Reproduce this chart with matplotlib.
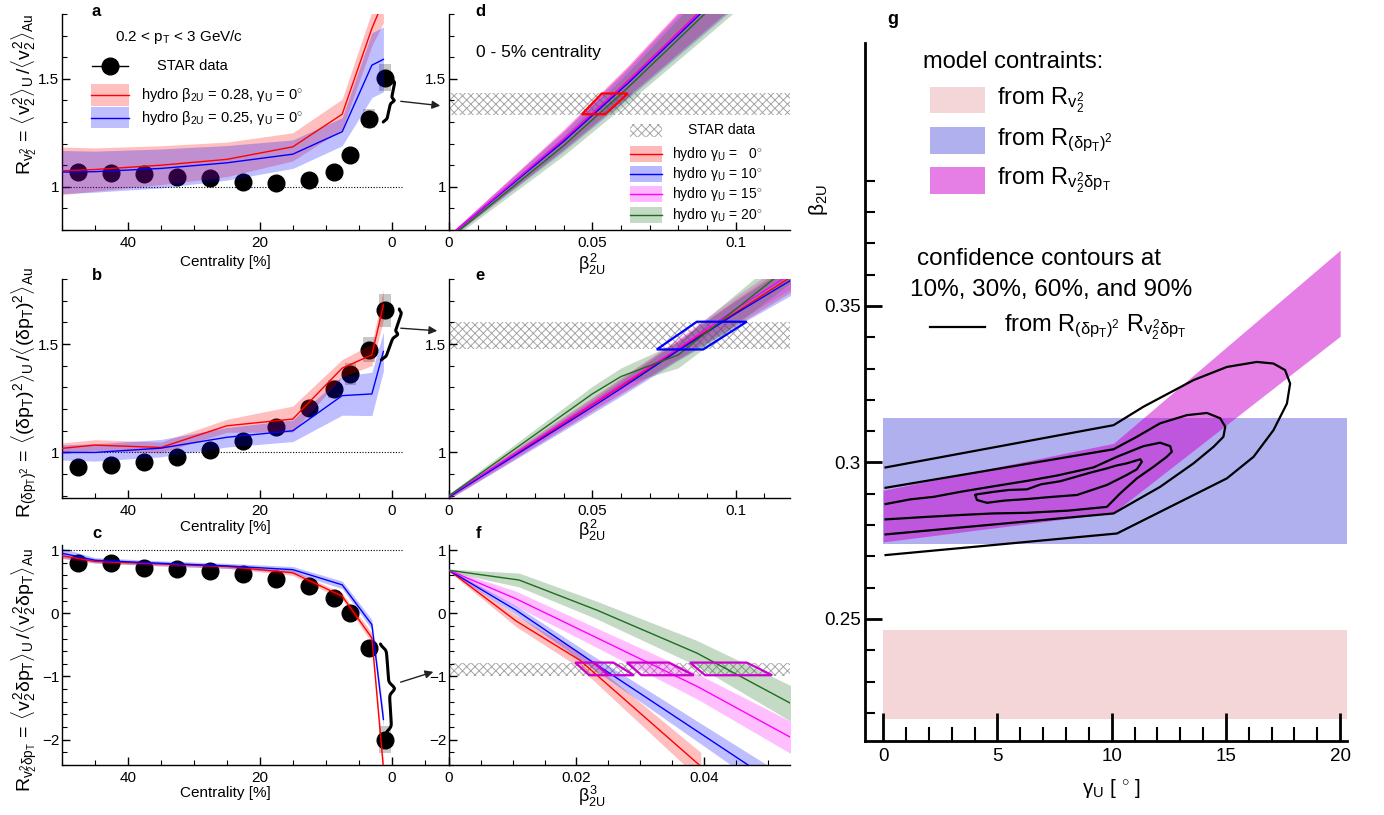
import numpy as np
import matplotlib
matplotlib.use('Agg')
import matplotlib.pyplot as plt
from matplotlib.patches import Rectangle, Polygon
from matplotlib.ticker import MultipleLocator, FixedLocator, FuncFormatter

plt.rcParams['font.family'] = ['Liberation Sans', 'DejaVu Sans']
plt.rcParams['mathtext.fontset'] = 'custom'
plt.rcParams['mathtext.rm'] = 'Liberation Sans'
plt.rcParams['mathtext.it'] = 'Liberation Sans'
plt.rcParams['mathtext.bf'] = 'Liberation Sans:bold'
plt.rcParams['hatch.linewidth'] = 0.7

# ------------------------- data -------------------------
cent_star = [47.5, 42.5, 37.5, 32.5, 27.5, 22.5, 17.5, 12.5, 8.75, 6.25, 3.5, 1.0]
rv2_star = [1.069, 1.062, 1.057, 1.046, 1.039, 1.023, 1.019, 1.031, 1.069, 1.147, 1.316, 1.506]
rv2_sys = [0.01, 0.01, 0.01, 0.01, 0.01, 0.01, 0.01, 0.01, 0.015, 0.02, 0.042, 0.064]
rpt_star = [0.931, 0.941, 0.957, 0.977, 1.011, 1.054, 1.119, 1.204, 1.292, 1.363, 1.474, 1.656]
rpt_sys = [0.01, 0.01, 0.01, 0.01, 0.015, 0.02, 0.025, 0.03, 0.042, 0.05, 0.058, 0.077]
rcov_star = [0.80, 0.79, 0.71, 0.70, 0.67, 0.62, 0.55, 0.43, 0.24, 0.01, -0.55, -2.0]
rcov_sys = [0.03, 0.03, 0.03, 0.03, 0.03, 0.03, 0.03, 0.03, 0.04, 0.05, 0.08, 0.21]

cent_hydro = [50, 45, 35, 25, 15, 7.5, 3.0, 1.25]
rv2_b28 = [1.074, 1.08, 1.10, 1.127, 1.185, 1.336, 1.733, 1.86]
rv2_b28_err = [0.11, 0.10, 0.09, 0.08, 0.065, 0.07, 0.08, 0.10]
rv2_b25 = [1.068, 1.07, 1.085, 1.111, 1.151, 1.255, 1.563, 1.59]
rv2_b25_err = [0.10, 0.095, 0.09, 0.08, 0.066, 0.065, 0.15, 0.15]
rpt_b28 = [1.019, 1.034, 1.023, 1.123, 1.154, 1.389, 1.45, 1.68]
rpt_b28_err = [0.025, 0.025, 0.025, 0.03, 0.06, 0.04, 0.05, 0.07]
rpt_b25 = [1.0, 1.0, 1.02, 1.07, 1.10, 1.262, 1.27, 1.466]
rpt_b25_err = [0.035, 0.04, 0.04, 0.045, 0.05, 0.09, 0.10, 0.09]
rcov_b28 = [0.91, 0.82, 0.78, 0.74, 0.64, 0.27, -0.39, -2.45]
rcov_b28_err = [0.04, 0.03, 0.03, 0.03, 0.04, 0.05, 0.08, 0.12]
rcov_b25 = [0.95, 0.84, 0.79, 0.75, 0.69, 0.45, -0.18, -1.68]
rcov_b25_err = [0.08, 0.04, 0.04, 0.04, 0.05, 0.06, 0.08, 0.12]

# panel d: R_v2 vs beta^2 (0-5%)
d_beta2 = [0, 0.04, 0.0625, 0.09, 0.12]
d_g0 = [0.77, 1.218, 1.49, 1.842, 2.22]
d_g10 = [0.77, 1.21, 1.48, 1.83, 2.21]
d_g15 = [0.77, 1.22, 1.49, 1.84, 2.22]
d_g20 = [0.76, 1.19, 1.46, 1.81, 2.19]
d_err = [0.01, 0.045, 0.07, 0.11, 0.15]
d_star = (1.332, 1.435)
d_para_x = [0.0464, 0.0545, 0.0624, 0.0533]
d_para_y = [1.336, 1.336, 1.432, 1.432]

# panel e: R_(dpT)^2 vs beta^2
e_beta2 = [0, 0.05, 0.06, 0.08, 0.1, 0.12]
e_g0 = [0.795, 1.22, 1.305, 1.475, 1.645, 1.815]
e_g10 = [0.795, 1.21, 1.295, 1.47, 1.64, 1.80]
e_g15 = [0.80, 1.225, 1.31, 1.48, 1.66, 1.83]
e_g20 = [0.80, 1.27, 1.35, 1.45, 1.66, 1.87]
e_err = [0.01, 0.03, 0.035, 0.045, 0.06, 0.07]
e_err_g20 = [0.01, 0.035, 0.04, 0.06, 0.07, 0.08]
e_star = (1.475, 1.603)
e_para_x = [0.0725, 0.0887, 0.1039, 0.0865]
e_para_y = [1.475, 1.475, 1.603, 1.603]

# panel f: R_v2dpT vs beta^3
f_beta3_g0 = [0, 0.0105, 0.0205, 0.0395]
f_g0 = [0.68, -0.12, -0.74, -2.42]
f_g0_err = [0.02, 0.09, 0.12, 0.22]
f_beta3 = [0, 0.0105, 0.022, 0.039, 0.055]
f_g10 = [0.68, 0.05, -0.735, -1.87, -2.94]
f_g10_err = [0.02, 0.07, 0.10, 0.16, 0.22]
f_g15 = [0.68, 0.23, -0.33, -1.16, -2.04]
f_g15_err = [0.02, 0.12, 0.15, 0.20, 0.26]
f_beta3_g20 = [0, 0.011, 0.0232, 0.0389, 0.055]
f_g20 = [0.68, 0.526, 0.05, -0.63, -1.50]
f_g20_err = [0.02, 0.11, 0.14, 0.20, 0.29]
f_star = (-0.99, -0.78)
f_para_y = [-0.78, -0.78, -0.98, -0.98]
f_para_x = [[0.0198, 0.0228, 0.0250, 0.0220],
            [0.0226, 0.0258, 0.0290, 0.0252],
            [0.0279, 0.0345, 0.0384, 0.0302],
            [0.0378, 0.0467, 0.0507, 0.0402]]

# panel g: constraints in (gamma, beta) plane
g_band_x = [0, 20.3]
g_rv2 = (0.218, 0.2465)
g_rpt = (0.2739, 0.3142)
g_cov_x = [0, 10.08, 20.0]
g_cov_lo = [0.2746, 0.2839, 0.3403]
g_cov_hi = [0.2911, 0.3061, 0.3678]
c90_g = [0.1, 10.08, 11.39, 13.58, 15.04, 16.35, 17.08, 17.59, 17.81, 17.67, 17.08, 16.21, 15.04, 10.23, 0.1]
c90_b = [0.2984, 0.3119, 0.3178, 0.3263, 0.3305, 0.3321, 0.3316, 0.3295, 0.3252, 0.3188, 0.3103, 0.3018, 0.2949, 0.2773, 0.2704]
c60_g = [0.1, 10.08, 11.10, 12.12, 13.29, 14.17, 14.75, 14.97, 14.89, 14.46, 13.58, 12.12, 10.08, 0.1]
c60_b = [0.2919, 0.3042, 0.3082, 0.3125, 0.3151, 0.3158, 0.3141, 0.3114, 0.3082, 0.3050, 0.2997, 0.2922, 0.2837, 0.2770]
c30_g = [0.1, 1.18, 2.2, 3.37, 4.6, 6.29, 7.6, 9.20, 10.23, 11.39, 12.12, 12.56, 12.63, 12.41, 11.83, 11.10, 10.37, 9.79, 8.1, 6.29, 4.8, 3.37, 1.9, 0.1]
c30_b = [0.2867, 0.2882, 0.2890, 0.2906, 0.2921, 0.2941, 0.2958, 0.2984, 0.3018, 0.3052, 0.3063, 0.3052, 0.3034, 0.3018, 0.2986, 0.2949, 0.2901, 0.2858, 0.2846, 0.2839, 0.2837, 0.2832, 0.2826, 0.2818]
c10_g = [4.03, 4.10, 4.54, 5.3, 6.29, 7.4, 8.48, 9.79, 10.66, 11.10, 11.32, 11.25, 10.66, 10.2, 9.79, 9.0, 7.75, 6.9, 6.29, 5.5, 4.83, 4.10, 4.03]
c10_b = [0.2896, 0.2880, 0.2871, 0.2878, 0.2883, 0.2890, 0.2896, 0.2928, 0.2960, 0.2978, 0.3002, 0.3010, 0.2997, 0.2990, 0.2981, 0.2966, 0.2940, 0.2930, 0.2914, 0.2912, 0.2906, 0.2898, 0.2896]

# ------------------------- figure -------------------------
W, H = 1384, 815
fig = plt.figure(figsize=(W / 100, H / 100), dpi=100)


def ax_px(l, t, r, b):
    ax = fig.add_axes([l / W, 1 - b / H, (r - l) / W, (b - t) / H])
    ax.set_facecolor('none')
    return ax


def fmt(v, p):
    s = '%g' % v
    return s.replace('-', '\u2212')


def style(ax, xmaj, xmin, ymaj, ymin, ls=11):
    for s in ['top', 'right']:
        ax.spines[s].set_visible(False)
    for s in ['left', 'bottom']:
        ax.spines[s].set_linewidth(1.0)
    ax.xaxis.set_major_locator(MultipleLocator(xmaj))
    ax.xaxis.set_minor_locator(MultipleLocator(xmin))
    ax.yaxis.set_major_locator(MultipleLocator(ymaj))
    ax.yaxis.set_minor_locator(MultipleLocator(ymin))
    ax.xaxis.set_major_formatter(FuncFormatter(fmt))
    ax.yaxis.set_major_formatter(FuncFormatter(fmt))
    ax.tick_params(which='both', direction='in', labelsize=ls)
    ax.tick_params(which='major', length=6, width=1.0)
    ax.tick_params(which='minor', length=3.5, width=0.8)
    ax.tick_params(axis='x', pad=4)
    ax.tick_params(axis='y', pad=2)


RED, BLUE, MAG, GRN = '#ff0000', '#0000ff', '#ff00ff', '#1b6e1b'
GRN_BAND = '#2e7d32'
BAND_A = 0.25
HATCH_COL = '#a5a5a5'
HATCH = 'xxxx'

axa = ax_px(62, 14, 449, 230)
axb = ax_px(62, 279, 449, 498)
axc = ax_px(62, 545, 449, 765)
axd = ax_px(449, 14, 790, 230)
axe = ax_px(449, 279, 790, 498)
axf = ax_px(449, 545, 790, 765)
axg = ax_px(865, 43, 1347, 741)

# ---- panels a, b, c ----
def centrality_panel(ax, star, sys, h28, e28, h25, e25, ylim, ymaj, ymin):
    ax.bar(cent_star, 2 * np.array(sys), bottom=np.array(star) - np.array(sys), width=1.8,
           color='#c8c8c8', zorder=1)
    ax.plot(cent_star, star, 'o', color='black', ms=12, zorder=2)
    h28, e28, h25, e25 = map(np.array, (h28, e28, h25, e25))
    ax.fill_between(cent_hydro, h28 - e28, h28 + e28, color=RED, alpha=BAND_A, lw=0, zorder=3)
    ax.fill_between(cent_hydro, h25 - e25, h25 + e25, color=BLUE, alpha=BAND_A, lw=0, zorder=3)
    ax.plot(cent_hydro, h28, color=RED, lw=1.0, zorder=4)
    ax.plot(cent_hydro, h25, color=BLUE, lw=1.0, zorder=4)
    ax.plot([50, -1.7], [1, 1], color='black', ls=(0, (1, 1.5)), lw=0.8, zorder=2)
    ax.set_xlim(50, -8.7)
    ax.set_ylim(*ylim)
    style(ax, 20, 5, ymaj, ymin)


centrality_panel(axa, rv2_star, rv2_sys, rv2_b28, rv2_b28_err, rv2_b25, rv2_b25_err, (0.8, 1.8), 0.5, 0.1)
centrality_panel(axb, rpt_star, rpt_sys, rpt_b28, rpt_b28_err, rpt_b25, rpt_b25_err, (0.79, 1.8), 0.5, 0.1)
centrality_panel(axc, rcov_star, rcov_sys, rcov_b28, rcov_b28_err, rcov_b25, rcov_b25_err, (-2.4, 1.08), 1, 0.2)

# ---- panels d, e, f ----
def beta_panel(ax, series, star, para_list, para_y, para_color, xlim, ylim, xmaj, xmin, ymaj, ymin):
    ax.axhspan(star[0], star[1], xmin=0.0, xmax=1.0, facecolor='none', edgecolor=HATCH_COL,
               hatch=HATCH, lw=0, zorder=1)
    for x, y, err, col, bcol in series:
        y = np.array(y); err = np.array(err)
        ax.fill_between(x, y - err, y + err, color=bcol, alpha=BAND_A if bcol != GRN_BAND else 0.28,
                        lw=0, zorder=2)
    for x, y, err, col, bcol in series:
        ax.plot(x, y, color=col, lw=1.0, zorder=3)
    for px in para_list:
        ax.add_patch(Polygon(list(zip(px, para_y)), closed=True, fill=False,
                             edgecolor=para_color, lw=1.6, zorder=4))
    ax.set_xlim(*xlim)
    ax.set_ylim(*ylim)
    style(ax, xmaj, xmin, ymaj, ymin)


beta_panel(axd, [(d_beta2, d_g0, d_err, RED, RED), (d_beta2, d_g10, d_err, BLUE, BLUE),
                 (d_beta2, d_g15, d_err, MAG, MAG), (d_beta2, d_g20, d_err, GRN, GRN_BAND)],
           d_star, [d_para_x], d_para_y, RED, (0, 0.119), (0.8, 1.8), 0.05, 0.01, 0.5, 0.1)
beta_panel(axe, [(e_beta2, e_g0, e_err, RED, RED), (e_beta2, e_g10, e_err, BLUE, BLUE),
                 (e_beta2, e_g15, e_err, MAG, MAG), (e_beta2, e_g20, e_err_g20, GRN, GRN_BAND)],
           e_star, [e_para_x], e_para_y, BLUE, (0, 0.119), (0.79, 1.8), 0.05, 0.01, 0.5, 0.1)
beta_panel(axf, [(f_beta3_g0, f_g0, f_g0_err, RED, RED), (f_beta3, f_g10, f_g10_err, BLUE, BLUE),
                 (f_beta3, f_g15, f_g15_err, MAG, MAG), (f_beta3_g20, f_g20, f_g20_err, GRN, GRN_BAND)],
           f_star, f_para_x, f_para_y, '#cc00cc', (0, 0.0535), (-2.4, 1.08), 0.02, 0.005, 1, 0.2)

# ---- panel g ----
axg.fill_between(g_band_x, g_rv2[0], g_rv2[1], color='#f5d6d8', lw=0, zorder=1)
axg.fill_between(g_band_x, g_rpt[0], g_rpt[1], color='#b0b0ef', lw=0, zorder=1)
axg.fill_between(g_cov_x, g_cov_lo, g_cov_hi, color=(0.8, 0.0, 0.8), alpha=0.5, lw=0, zorder=2)
for cg, cb in [(c90_g, c90_b), (c60_g, c60_b), (c30_g, c30_b), (c10_g, c10_b)]:
    axg.plot(cg, cb, color='black', lw=1.6, zorder=3)
axg.set_xlim(-0.8, 20.3)
axg.set_ylim(0.211, 0.434)
for s in ['top', 'right']:
    axg.spines[s].set_visible(False)
for s in ['left', 'bottom']:
    axg.spines[s].set_linewidth(2.0)
axg.xaxis.set_major_locator(MultipleLocator(5))
axg.xaxis.set_minor_locator(MultipleLocator(1))
axg.yaxis.set_major_locator(FixedLocator([0.25, 0.3, 0.35]))
axg.yaxis.set_minor_locator(FixedLocator([0.22, 0.23, 0.24, 0.26, 0.27, 0.28, 0.29, 0.31, 0.32,
                                          0.33, 0.34, 0.36, 0.37, 0.38, 0.39]))
axg.xaxis.set_major_formatter(FuncFormatter(fmt))
axg.yaxis.set_major_formatter(FuncFormatter(fmt))
axg.tick_params(which='both', direction='in', labelsize=13.5)
axg.tick_params(axis='x', which='major', length=20, width=2, pad=5)
axg.tick_params(axis='x', which='minor', length=10, width=1.5)
axg.tick_params(axis='y', which='major', length=12, width=2, pad=3)
axg.tick_params(axis='y', which='minor', length=7, width=1.5)

# ------------------------- overlay: labels, legends, braces -------------------------
ov = fig.add_axes([0, 0, 1, 1], zorder=10)
ov.set_xlim(0, W)
ov.set_ylim(H, 0)
ov.axis('off')
ov.set_facecolor('none')

# panel letters
for lab, x, y in [('a', 96, 11), ('b', 97, 275), ('c', 97, 534), ('d', 480, 11), ('e', 480, 275),
                  ('f', 479, 534), ('g', 893, 20)]:
    ov.text(x, y, lab, fontsize=12 if lab != 'g' else 13, fontweight='bold', ha='center', va='center')

# y labels a-c
ov.text(24, 13, r'$R_{v_2^2}\,=\,\langle v_2^2\rangle_U\,/\langle v_2^2\rangle_{Au}$', rotation=90,
        ha='center', va='top', fontsize=14)
ov.text(24, 267, r'$R_{(\delta p_T)^2}\,=\,\langle(\delta p_T)^2\rangle_U\,/\langle(\delta p_T)^2\rangle_{Au}$',
        rotation=90, ha='center', va='top', fontsize=14)
ov.text(24, 548, r'$R_{v_2^2\delta p_T}\,=\,\langle v_2^2\delta p_T\rangle_U\,/\langle v_2^2\delta p_T\rangle_{Au}$',
        rotation=90, ha='center', va='top', fontsize=14)

# x labels
for y in (262, 527, 793):
    ov.text(225, y, 'Centrality [%]', ha='center', va='center', fontsize=11)
ov.text(592, 264, r'$\beta^2_{2U}$', ha='center', va='center', fontsize=13)
ov.text(592, 530, r'$\beta^2_{2U}$', ha='center', va='center', fontsize=13)
ov.text(592, 796, r'$\beta^3_{2U}$', ha='center', va='center', fontsize=13)

# legend panel a
ov.text(115, 37, r'0.2 < p$_T$ < 3 GeV/c', ha='left', va='center', fontsize=11)
ov.plot([92, 128], [66, 66], color='black', lw=1)
ov.plot([110], [66], 'o', color='black', ms=12)
ov.text(157, 66, 'STAR data', ha='left', va='center', fontsize=10.5)
ov.add_patch(Rectangle((91, 84), 38, 22, color=RED, alpha=BAND_A, lw=0))
ov.plot([91, 129], [95, 95], color=RED, lw=1)
ov.text(141, 95, r'hydro $\beta_{2U}$ = 0.28, $\gamma_U$ = 0$^{\circ}$', ha='left', va='center', fontsize=10.5)
ov.add_patch(Rectangle((91, 107), 38, 21, color=BLUE, alpha=BAND_A, lw=0))
ov.plot([91, 129], [118, 118], color=BLUE, lw=1)
ov.text(141, 118, r'hydro $\beta_{2U}$ = 0.25, $\gamma_U$ = 0$^{\circ}$', ha='left', va='center', fontsize=10.5)

# legend panel d
ov.text(476, 52, '0 - 5% centrality', ha='left', va='center', fontsize=12.5)
ov.add_patch(Rectangle((630, 124), 32, 13, facecolor='none', edgecolor=HATCH_COL, hatch=HATCH, lw=0))
ov.text(688, 130, 'STAR data', ha='left', va='center', fontsize=10)
for (yc, col, bcol, g) in [(154, RED, RED, '\u20070'), (174, BLUE, BLUE, '10'), (194, MAG, MAG, '15'),
                           (215, GRN, GRN_BAND, '20')]:
    ov.add_patch(Rectangle((630, yc - 8), 32, 16, color=bcol, alpha=0.28, lw=0))
    ov.plot([630, 662], [yc, yc], color=col, lw=1)
    ov.text(672, yc, r'hydro $\gamma_U$ = ' + g + r'$^{\circ}$', ha='left', va='center', fontsize=10)


# braces and arrows
def brace(x_top, x_bot, y0, y1, w):
    s = np.linspace(0, 1, 80)
    half = 0.5 * w * (1 / (1 + np.exp(-30 * (s - 0.08))) + 1 / (1 + np.exp(-30 * (s - 0.92))))
    ym = 0.5 * (y0 + y1)
    yu = y0 + s * (ym - y0)
    yl = y1 - s * (y1 - ym)
    xu = x_top + (x_bot - x_top) * (yu - y0) / (y1 - y0) + half
    xl = x_top + (x_bot - x_top) * (yl - y0) / (y1 - y0) + half
    ov.plot(np.r_[xu, xl[::-1]], np.r_[yu, yl[::-1]], color='black', lw=2.2, solid_capstyle='round')


brace(392, 383, 79, 122, 7)
brace(399, 381, 309, 360, 8)
brace(380, 386, 644, 733, 12)
arrow_kw = dict(arrowstyle='-|>', color='#222222', lw=1.0, mutation_scale=12)
ov.annotate('', xy=(443, 106), xytext=(398, 101), arrowprops=arrow_kw)
ov.annotate('', xy=(440, 331), xytext=(398, 328), arrowprops=arrow_kw)
ov.annotate('', xy=(436, 671), xytext=(398, 683), arrowprops=arrow_kw)

# panel g labels & legend
ov.text(1112, 788, r'$\gamma_U$ [ $^{\circ}$ ]', ha='center', va='center', fontsize=15)
ov.text(818, 200, r'$\beta_{2U}$', ha='center', va='center', rotation=90, fontsize=15)
ov.text(923, 62, 'model contraints:', ha='left', va='center', fontsize=17)
ov.add_patch(Rectangle((930, 87), 55, 26, color='#f5d6d8', lw=0))
ov.text(997, 100, r'from $R_{v_2^2}$', ha='left', va='center', fontsize=17)
ov.add_patch(Rectangle((930, 127), 55, 27, color='#b0b0ef', lw=0))
ov.text(997, 140, r'from $R_{(\delta p_T)^2}$', ha='left', va='center', fontsize=17)
ov.add_patch(Rectangle((930, 167), 55, 27, color='#e57fe5', lw=0))
ov.text(997, 180, r'from $R_{v_2^2\delta p_T}$', ha='left', va='center', fontsize=17)
ov.text(917, 259, 'confidence contours at', ha='left', va='center', fontsize=17.5)
ov.text(910, 290, '10%, 30%, 60%, and 90%', ha='left', va='center', fontsize=17.5)
ov.plot([930, 985], [327, 327], color='black', lw=1.6)
ov.text(1004, 327, r'from $R_{(\delta p_T)^2}\ R_{v_2^2\delta p_T}$', ha='left', va='center', fontsize=17)

fig.savefig('out.png', dpi=100)
